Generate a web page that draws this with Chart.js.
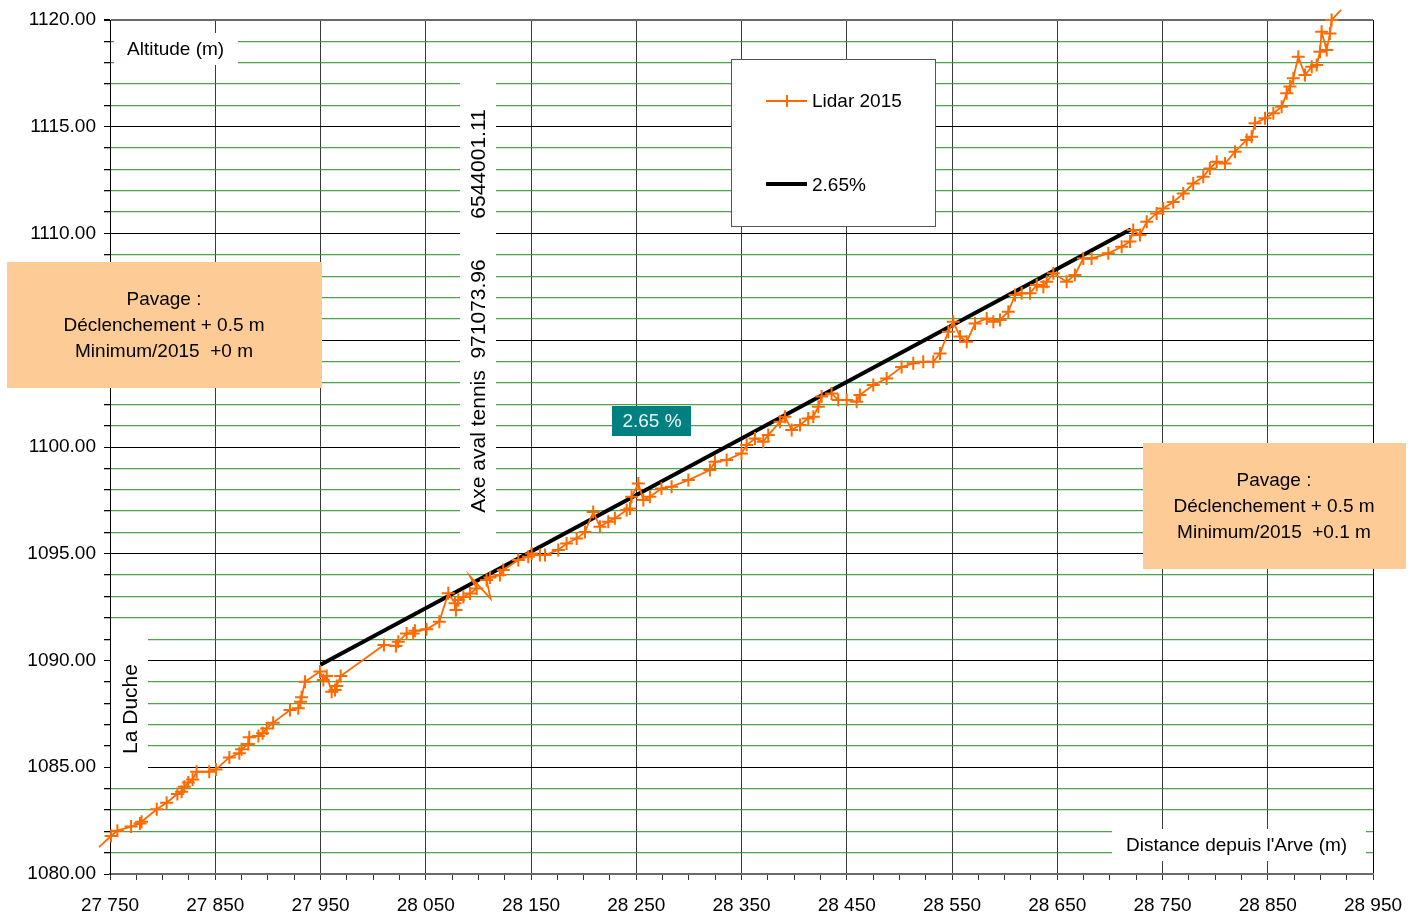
<!DOCTYPE html>
<html>
<head>
<meta charset="utf-8">
<script src="https://cdn.jsdelivr.net/npm/chart.js@4/dist/chart.umd.min.js"></script>
<style>
  html, body { margin: 0; padding: 0; background: #fff; }
  #wrap { position: relative; width: 1421px; height: 915px; }
</style>
</head>
<body>
<div id="wrap"><canvas id="profil"></canvas></div>
<script>
// Profil en long – distance depuis l'Arve (m) / altitude (m)
const lidarDistance = [
  27739.5, 27751, 27757, 27770, 27778.5, 27780, 27794.4, 27803.8, 27814, 27818,
  27820.6, 27824.4, 27828.5, 27832.3, 27844.3, 27850.7, 27863.4, 27872.9, 27875, 27881.4,
  27882.3, 27891, 27895, 27898.9, 27905, 27921, 27928.9, 27931, 27932, 27935.3,
  27949.5, 27952.7, 27955.9, 27960.6, 27963.8, 27965.4, 27969.2, 28010.3, 28021.7, 28023.9,
  28031.8, 28038.1, 28039.7, 28050.8, 28062.9, 28071.4, 28077.8, 28078.7, 28081, 28085.7,
  28092, 28098.4, 28092, 28111.6, 28107.8, 28111, 28120.5, 28123.7, 28137.9, 28147.4,
  28150.6, 28158.5, 28163.3, 28175.9, 28183.8, 28193.4, 28201.3, 28209.1, 28215.5, 28223.4,
  28229.7, 28240.9, 28244, 28245.6, 28252, 28256.7, 28263, 28274, 28283.6, 28299.5,
  28320, 28324.8, 28335.9, 28350, 28354.9, 28362.8, 28370.7, 28375.4, 28386.6, 28391.3,
  28397.7, 28405.6, 28413.4, 28418.2, 28423, 28426.1, 28435.6, 28441.9, 28449.9, 28459.4,
  28462.5, 28475.2, 28487.9, 28502.1, 28513.2, 28522.7, 28532.2, 28538.6, 28546.5, 28551.2,
  28557.6, 28564, 28571.9, 28583, 28589.3, 28595.6, 28603.5, 28609.9, 28616.2, 28624.1,
  28630.5, 28636.8, 28640, 28646.3, 28658.9, 28666.8, 28674.7, 28682.6, 28698.5, 28711.2,
  28719.1, 28722.2, 28728.6, 28735, 28744.4, 28750.7, 28760.2, 28769.7, 28779.2, 28788.7,
  28795, 28801.5, 28809.4, 28818.9, 28830, 28834.7, 28837.9, 28847.4, 28855.3, 28863.2,
  28868, 28871.1, 28874.3, 28879, 28885.4, 28891.8, 28896.5, 28899.6, 28901.2, 28906,
  28909.1, 28910.7, 28919.7
];
const lidarAltitude = [
  1081.26, 1081.78, 1082.03, 1082.22, 1082.37, 1082.45, 1083.03, 1083.34, 1083.75, 1083.85,
  1084.09, 1084.28, 1084.43, 1084.79, 1084.79, 1084.90, 1085.46, 1085.65, 1085.84, 1086.09,
  1086.40, 1086.46, 1086.59, 1086.82, 1087.09, 1087.68, 1087.76, 1088.07, 1088.28, 1089.01,
  1089.48, 1089.09, 1089.27, 1088.54, 1088.62, 1088.81, 1089.27, 1090.73, 1090.68, 1090.88,
  1091.27, 1091.27, 1091.39, 1091.46, 1091.82, 1093.15, 1092.68, 1092.37, 1092.83, 1092.98,
  1093.14, 1093.37, 1093.95, 1092.90, 1093.77, 1093.89, 1094.00, 1094.24, 1094.71, 1094.86,
  1095.01, 1094.94, 1094.94, 1095.18, 1095.48, 1095.71, 1096.02, 1096.96, 1096.27, 1096.50,
  1096.66, 1097.05, 1097.12, 1097.67, 1098.29, 1097.52, 1097.67, 1098.06, 1098.14, 1098.45,
  1098.92, 1099.31, 1099.39, 1099.70, 1100.09, 1100.40, 1100.25, 1100.56, 1101.18, 1101.42,
  1100.80, 1101.03, 1101.34, 1101.42, 1101.89, 1102.36, 1102.51, 1102.20, 1102.20, 1102.12,
  1102.43, 1102.90, 1103.21, 1103.75, 1103.92, 1103.99, 1103.99, 1104.38, 1105.40, 1105.87,
  1105.17, 1104.93, 1105.79, 1106.02, 1105.87, 1105.95, 1106.34, 1107.12, 1107.20, 1107.20,
  1107.59, 1107.51, 1107.74, 1108.14, 1107.74, 1108.06, 1108.83, 1108.83, 1109.07, 1109.38,
  1109.62, 1110.16, 1109.93, 1110.55, 1110.94, 1111.17, 1111.48, 1111.87, 1112.34, 1112.66,
  1113.05, 1113.36, 1113.28, 1113.83, 1114.38, 1114.53, 1115.16, 1115.40, 1115.63, 1115.94,
  1116.57, 1116.88, 1117.27, 1118.28, 1117.42, 1117.81, 1117.89, 1118.51, 1119.45, 1118.59,
  1119.37, 1120.00, 1120.47
];
// points de tracé sans repère (extrémités et retour du levé)
const lidarUnmarked = [0, 52, 53, lidarDistance.length - 1];

// Pente de référence 2.65 %
const slopeDistance = [27950, 28720];
const slopeAltitude = [1089.8, 1110.2];

const xMin = 27750, xMax = 28950, xStep = 25, xLabelStep = 100;
const yMin = 1080, yMax = 1120, yStep = 1, yLabelStep = 5;

const FONT = "'Liberation Sans', Arial, sans-serif";
const ORANGE = '#FF6A00';

const isMajorX = v => Math.abs((v - xMin) % xLabelStep) < 1e-6;

const fmtDistance = v => {
  const s = String(Math.round(v));
  return s.slice(0, s.length - 3) + ' ' + s.slice(-3);
};

function textBox(ctx, x, y, w, h, fill) {
  ctx.fillStyle = fill;
  ctx.fillRect(x, y, w, h);
}

function verticalText(ctx, text, x, y) {
  ctx.save();
  ctx.translate(x, y);
  ctx.rotate(-Math.PI / 2);
  ctx.textAlign = 'center';
  ctx.fillText(text, 0, 0);
  ctx.restore();
}

const annotations = {
  id: 'annotations',
  beforeDatasetsDraw(chart) {
    const ctx = chart.ctx;
    ctx.save();
    // cartouches blancs des titres d'axes
    textBox(ctx, 114, 33, 124, 32, '#fff');
    textBox(ctx, 111, 630, 37, 145, '#fff');
    textBox(ctx, 460, 75, 36, 470, '#fff');
    textBox(ctx, 1112, 829, 254, 32, '#fff');

    ctx.fillStyle = '#000';
    ctx.font = '19px ' + FONT;
    ctx.textBaseline = 'middle';
    ctx.textAlign = 'left';
    ctx.fillText('Altitude (m)', 127, 50);
    ctx.fillText("Distance depuis l'Arve (m)", 1126, 846);

    ctx.font = '21px ' + FONT;
    verticalText(ctx, 'La Duche', 131, 709);
    verticalText(ctx, 'Axe aval tennis  971073.96', 479, 386);
    verticalText(ctx, '6544001.11', 479, 164);

    ctx.restore();
  },
  afterDraw(chart) {
    const ctx = chart.ctx;
    ctx.save();
    ctx.font = '19px ' + FONT;
    ctx.textBaseline = 'middle';

    // encadrés « Pavage »
    textBox(ctx, 7, 262, 315, 126, '#FDCB95');
    textBox(ctx, 1143, 443, 263, 126, '#FDCB95');
    ctx.fillStyle = '#000';
    ctx.textAlign = 'center';
    ctx.fillText('Pavage :', 164, 300);
    ctx.fillText('Déclenchement + 0.5 m', 164, 326);
    ctx.fillText('Minimum/2015  +0 m', 164, 352);
    ctx.fillText('Pavage :', 1274, 481);
    ctx.fillText('Déclenchement + 0.5 m', 1274, 507);
    ctx.fillText('Minimum/2015  +0.1 m', 1274, 533);

    // étiquette de pente
    textBox(ctx, 612, 406, 79, 30, '#008080');
    ctx.fillStyle = '#EAF4F4';
    ctx.fillText('2.65 %', 652, 422);

    // légende
    ctx.fillStyle = '#fff';
    ctx.fillRect(731.5, 59.5, 204, 167);
    ctx.strokeStyle = '#555';
    ctx.lineWidth = 1;
    ctx.strokeRect(731.5, 59.5, 204, 167);

    ctx.strokeStyle = ORANGE;
    ctx.lineWidth = 2;
    ctx.beginPath();
    ctx.moveTo(766, 101); ctx.lineTo(807, 101);
    ctx.moveTo(787, 95); ctx.lineTo(787, 107);
    ctx.stroke();

    ctx.strokeStyle = '#000';
    ctx.lineWidth = 4;
    ctx.beginPath();
    ctx.moveTo(766, 184); ctx.lineTo(807, 184);
    ctx.stroke();

    ctx.fillStyle = '#000';
    ctx.textAlign = 'left';
    ctx.fillText('Lidar 2015', 812, 102);
    ctx.fillText('2.65%', 812, 186);
    ctx.restore();
  }
};

new Chart(document.getElementById('profil'), {
  type: 'line',
  data: {
    datasets: [
      {
        label: '2.65%',
        data: slopeDistance.map((x, i) => ({ x, y: slopeAltitude[i] })),
        borderColor: '#000',
        borderWidth: 4,
        pointRadius: 0,
        borderCapStyle: 'butt',
        order: 2
      },
      {
        label: 'Lidar 2015',
        data: lidarDistance.map((x, i) => ({ x, y: lidarAltitude[i] })),
        borderColor: ORANGE,
        borderWidth: 1.8,
        tension: 0,
        pointStyle: 'cross',
        pointRadius: ctx => lidarUnmarked.includes(ctx.dataIndex) ? 0 : 6.5,
        pointBorderColor: ORANGE,
        pointBorderWidth: 2,
        pointBackgroundColor: ORANGE,
        clip: { left: 14, top: 14, right: 0, bottom: 0 },
        order: 1
      }
    ]
  },
  options: {
    responsive: true,
    maintainAspectRatio: false,
    animation: false,
    devicePixelRatio: 1,
    layout: { padding: { top: 20, right: 48, left: 0, bottom: 0 } },
    plugins: {
      legend: { display: false },
      tooltip: { enabled: false }
    },
    scales: {
      x: {
        type: 'linear',
        min: xMin,
        max: xMax,
        border: { display: true, color: '#6a6a6a', width: 2 },
        grid: {
          color: ctx => {
            if (!ctx.tick) return 'rgba(0,0,0,0)';
            if (ctx.tick.value === xMax) return '#000';
            return isMajorX(ctx.tick.value) ? '#3a3a3a' : 'rgba(0,0,0,0)';
          },
          lineWidth: 1,
          tickColor: '#333',
          tickLength: 6,
          drawTicks: true
        },
        ticks: {
          stepSize: xStep,
          autoSkip: false,
          maxRotation: 0,
          minRotation: 0,
          padding: 14,
          color: '#000',
          font: { family: FONT, size: 19 },
          callback: v => (isMajorX(v) ? fmtDistance(v) : '')
        },
        afterFit: s => { s.height = 41; }
      },
      y: {
        type: 'linear',
        min: yMin,
        max: yMax,
        border: { display: true, color: '#000', width: 1 },
        grid: {
          color: ctx => {
            const v = ctx.tick ? ctx.tick.value : 0;
            if (v === yMax) return '#6a6a6a';
            return v % yLabelStep === 0 ? '#000' : 'rgba(46,146,46,0.85)';
          },
          lineWidth: ctx => {
            const v = ctx.tick ? ctx.tick.value : 0;
            if (v === yMax) return 2;
            return v % yLabelStep === 0 ? 1 : 1.3;
          },
          tickColor: '#000',
          tickLength: 6
        },
        ticks: {
          stepSize: yStep,
          autoSkip: false,
          padding: 8,
          color: '#000',
          font: { family: FONT, size: 19 },
          callback: v => (v % yLabelStep === 0 ? v.toFixed(2) : '')
        },
        afterFit: s => { s.width = 110; }
      }
    }
  },
  plugins: [annotations]
});
</script>
</body>
</html>
